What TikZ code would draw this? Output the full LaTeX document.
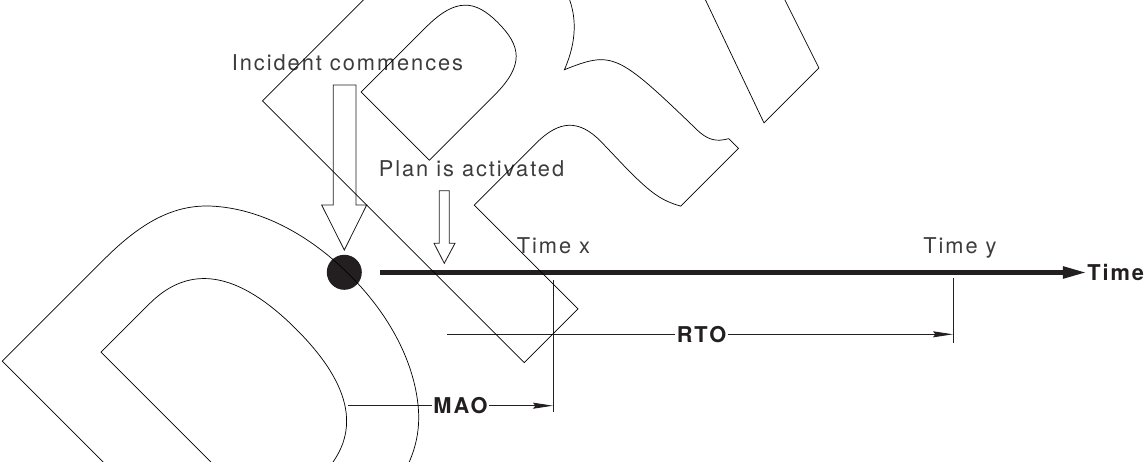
\documentclass[tikz,border=0pt]{standalone}
\usepackage{fontspec}
\setmainfont{TeX Gyre Heros}[LetterSpace=9]
\newfontfamily\stampfont{TeX Gyre Heros}
\usepackage{tikz}
\usetikzlibrary{arrows.meta}
\definecolor{InkDark}{HTML}{231F20}
\definecolor{InkGray}{HTML}{3C3C3C}
% hollow glyphs for the stamp (stroke only)
\newcommand\outlined[1]{\special{pdf:literal direct 1 Tr 0.5 w}#1\special{pdf:literal direct 0 Tr}}
\tikzset{
  eventlabel/.style={font=\fontsize{15.5}{18}\selectfont,text=InkGray,inner sep=0pt},
  dimlabel/.style={font=\fontsize{15.5}{18}\selectfont\bfseries,text=InkDark,inner xsep=1.2pt,inner ysep=0pt},
  eventdot/.style={circle,fill=InkDark,minimum size=8.75mm,inner sep=0pt},
  hollowarrow/.style={draw=InkDark,line width=0.6pt,line join=miter},
  timeaxis/.style={-{Triangle[length=5.5mm,width=3.2mm,line width=0pt]},line width=3.6pt,draw=InkDark,shorten >=1.5pt},
  dimline/.style={line width=0.6pt,draw=InkDark},
  dimarrow/.style={-{Stealth[length=5mm,width=1.5mm,inset=0.6mm]},line width=0.6pt,draw=InkDark},
  stampnode/.style={inner sep=0pt,outer sep=0pt,font=\stampfont\bfseries\fontsize{361}{361}\selectfont}
}

\begin{document}
\begin{tikzpicture}[x=0.025cm,y=-0.025cm]
\useasboundingbox (0,0) rectangle (1145,461);
% incident and plan activation
\node[eventlabel,anchor=base] (incidentlbl) at (347.5,70.5) {Incident commences};
\draw[hollowarrow] (333.3,85) -- (356,85) -- (356,205) -- (366.7,205) -- (344.3,250) -- (321.7,205) -- (333.3,205) -- cycle;
\node[eventdot] (incident) at (344.3,272.3) {};
\node[eventlabel,anchor=base west] (planlbl) at (378.5,176) {Plan is activated};
\draw[hollowarrow] (439.3,190.7) -- (449.3,190.7) -- (449.3,243.3) -- (455,243.3) -- (444.3,263.3) -- (434,243.3) -- (439.3,243.3) -- cycle;
% time axis
\coordinate (axisstart) at (380,272.5);
\node[dimlabel,inner sep=0pt,anchor=base west] (timelbl) at (1087,280) {Time};
\draw[timeaxis] (axisstart) -- (axisstart -| timelbl.west);
\node[eventlabel,anchor=base] (timex) at (553.5,253) {Time x};
\node[eventlabel,anchor=base] (timey) at (960,253) {Time y};
\coordinate (xtop) at (553,280);
\coordinate (xbot) at (553,411.7);
\coordinate (ytop) at (953,278);
\coordinate (ybot) at (953,343);
\draw[dimline] (xtop) -- (xbot);
\draw[dimline] (ytop) -- (ybot);
% RTO and MAO spans
\coordinate (rtostart) at (447.3,334.3);
\node[dimlabel] (rto) at (701.5,334.3) {RTO};
\draw[dimline] (rtostart) -- (rto.west);
\draw[dimarrow] (rto.east) -- (rto.east -| ytop);
\coordinate (maostart) at (348,405.7);
\node[dimlabel] (mao) at (460.5,405.7) {MAO};
\draw[dimline] (maostart) -- (mao.west);
\draw[dimarrow] (mao.east) -- (mao.east -| xtop);
% draft stamp
\begin{scope}
\clip (0,0) rectangle (1145,461);
\node[stampnode,rotate=45,anchor=base west] (stamp) at (236.3,650.5) {\outlined{DRAFT}};
\end{scope}
\end{tikzpicture}
\end{document}
